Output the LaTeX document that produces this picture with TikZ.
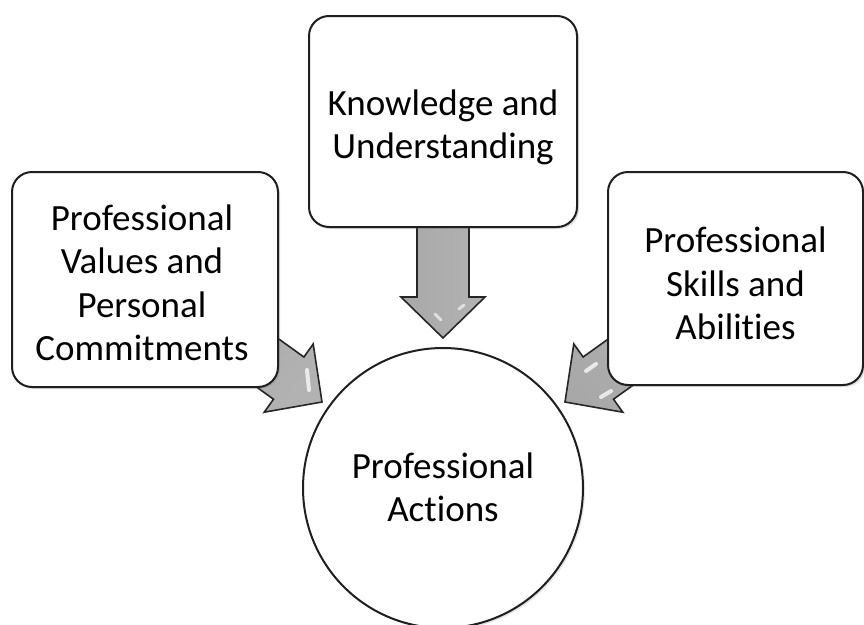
\documentclass[tikz,border=0pt]{standalone}
\usepackage{fontspec}
\setmainfont{Carlito}[Ligatures=NoCommon]
\usetikzlibrary{shadows,calc}
\begin{document}
\begin{tikzpicture}[x=1pt,y=-1pt,
  box/.style={draw=black!88, line width=2pt, fill=white, rounded corners=20pt, inner sep=0pt,
    drop shadow={opacity=0.25, shadow xshift=2pt, shadow yshift=-2pt}},
  ring/.style={draw=black!88, line width=2pt, fill=white, circle, inner sep=0pt,
    drop shadow={opacity=0.2, shadow xshift=2pt, shadow yshift=-2pt}},
  lbl/.style={font=\fontsize{37}{43.5}\selectfont, align=center, inner sep=0pt, text=black},
  barrow/.style={draw=black!85, line width=1.6pt, line join=miter, shading=axis},
  shine/.style={white, line width=4pt, line cap=round, opacity=0.75}]
\useasboundingbox (0,0) rectangle (864,624);
\fill[white] (0,0) rectangle (864,624);

% block arrows (behind the boxes)
\path[barrow, left color=black!34, middle color=black!20, right color=black!30]
  (417,200) -- (417,297) -- (401,297) -- (443,338) -- (485,297) -- (469,297) -- (469,200) -- cycle;
\path[barrow, left color=black!34, middle color=black!20, right color=black!30, shading angle=54]
  (214.5,292.9) -- (303.9,357.0) -- (313.2,344.0) -- (322,402) -- (264.2,412.2) -- (273.5,399.2) -- (184.1,335.1) -- cycle;
\path[barrow, left color=black!30, middle color=black!20, right color=black!34, shading angle=-54]
  (672.5,292.9) -- (583.1,357.0) -- (573.8,344.0) -- (565,402) -- (622.8,412.2) -- (613.5,399.2) -- (702.9,335.1) -- cycle;

% highlights
\draw[shine] (307,370) -- (309,390);
\draw[shine] (596,364) -- (586,371);
\draw[shine] (611,391) -- (601,397);
\draw[shine, line width=3pt, opacity=0.6] (435,314) -- (441,320);
\draw[shine, line width=3pt, opacity=0.6] (464,305) -- (459,309);

% boxes
\node[box, minimum width=268pt, minimum height=211pt] (ku) at (443,121.5) {};
\node[box, minimum width=266pt, minimum height=215pt] (pv) at (145,279.5) {};
\node[box, minimum width=255pt, minimum height=213pt] (ps) at (735.5,278.5) {};
\node[ring, minimum size=280pt] (pa) at (443,488) {};

% labels
\node[lbl] (kut) at ($(ku.center)+(0,6)$) {Knowledge and\\Understanding};
\node[lbl] (pvt) at ($(pv.center)+(-3,3.5)$) {Professional\\Values and\\Personal\\Commitments};
\node[lbl] (pst) at ($(ps.center)+(0,5)$) {Professional\\Skills and\\Abilities};
\node[lbl] (pat) at ($(pa.center)+(0,-0.5)$) {Professional\\Actions};
\end{tikzpicture}
\end{document}
